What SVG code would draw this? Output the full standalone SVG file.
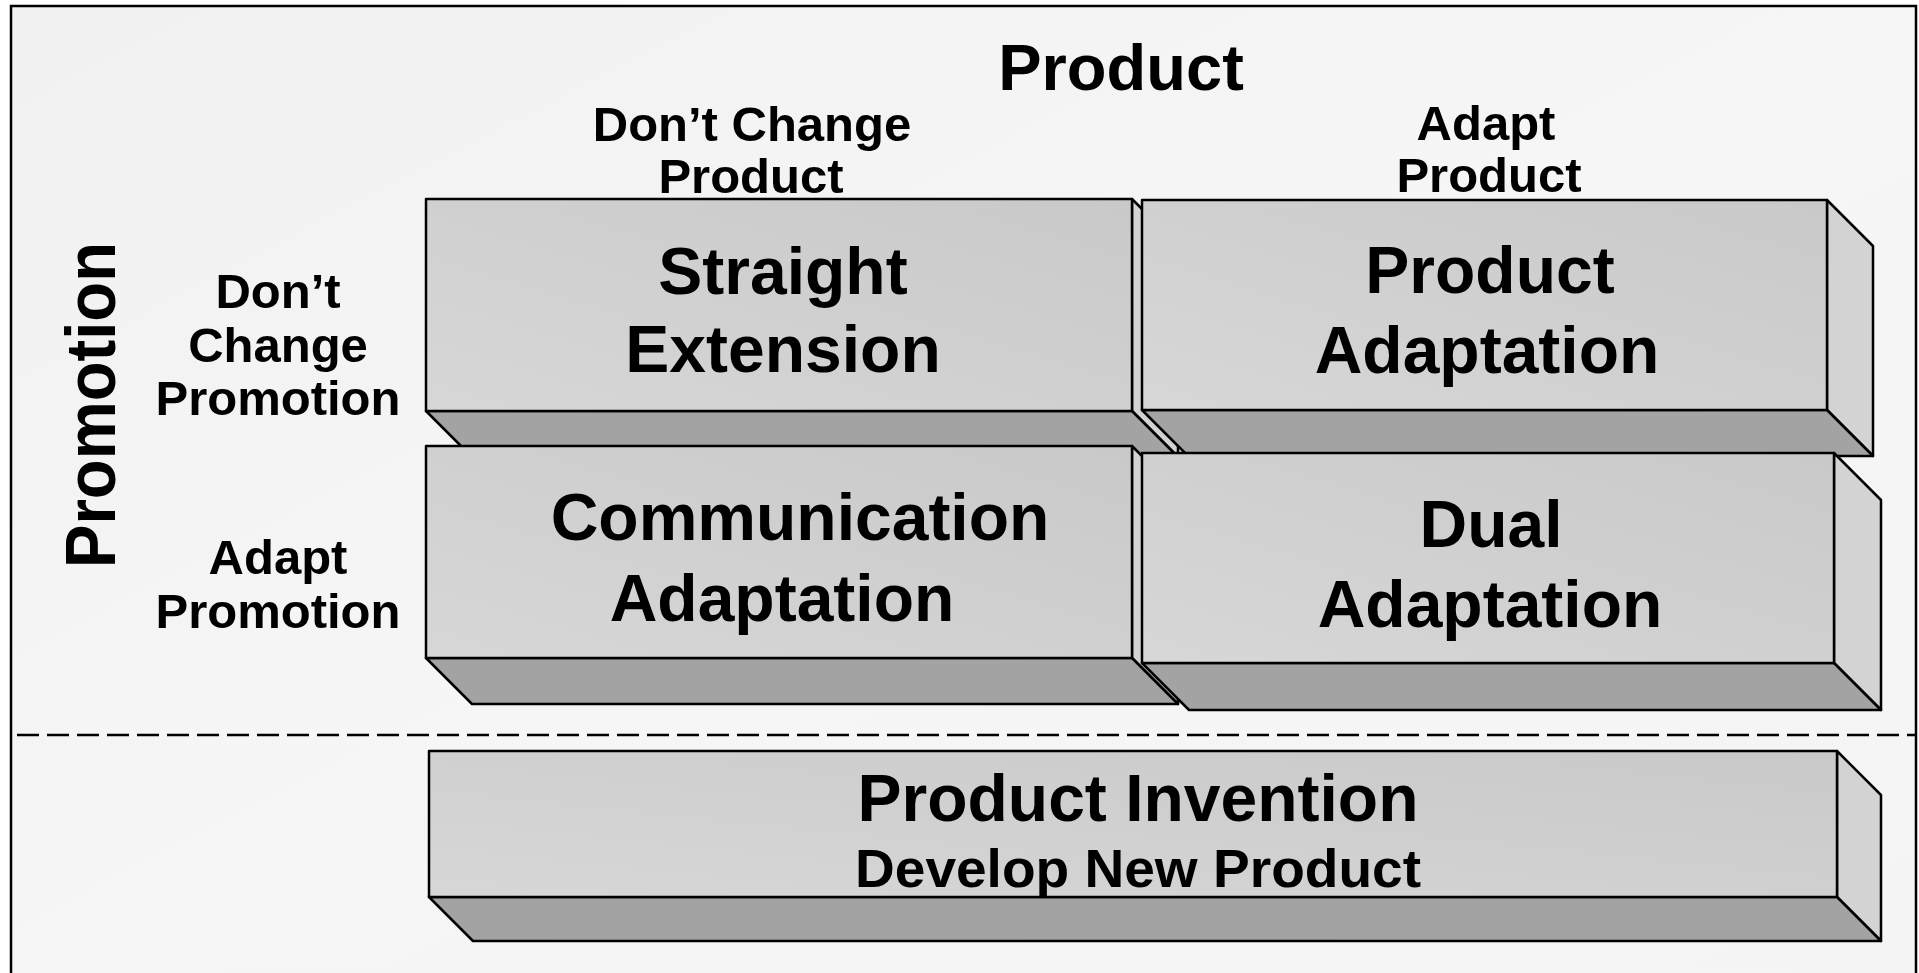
<svg xmlns="http://www.w3.org/2000/svg" width="1919" height="973" viewBox="0 0 1919 973">
  <defs>
    <linearGradient id="bg" x1="0" y1="0" x2="1" y2="1">
      <stop offset="0" stop-color="#f1f1f1"/>
      <stop offset="0.5" stop-color="#f6f6f6"/>
      <stop offset="1" stop-color="#f4f4f4"/>
    </linearGradient>
    <linearGradient id="face" x1="0" y1="1" x2="1" y2="0">
      <stop offset="0" stop-color="#d7d7d7"/>
      <stop offset="1" stop-color="#c9c9c9"/>
    </linearGradient>
    <style>
      .frame { fill: url(#bg); stroke: #000; stroke-width: 2.5; }
      .divider { stroke: #000; stroke-width: 2.5; stroke-dasharray: 22 8; fill: none; }
      .front { fill: url(#face); stroke: #000; stroke-width: 2.5; stroke-linejoin: round; }
      .bottom { fill: #a3a3a3; stroke: #000; stroke-width: 2.5; stroke-linejoin: round; }
      .side { fill: #d3d3d3; stroke: #000; stroke-width: 2.5; stroke-linejoin: round; }
      text { font-family: "Liberation Sans", Arial, sans-serif; font-weight: 700; fill: #000; text-anchor: middle; }
      .title { font-size: 65px; }
      .head { font-size: 49px; }
      .axis { font-size: 70px; }
      .big { font-size: 66px; }
      .sub { font-size: 53px; }
    </style>
  </defs>

  <!-- frame and panel background -->
  <rect x="0" y="0" width="1919" height="973" fill="#ffffff"/>
  <rect class="frame" x="11" y="6" width="1905" height="990"/>

  <!-- axis and header labels -->
  <g id="labels">
    <text class="title" x="1121" y="90">Product</text>
    <text class="head" x="752" y="141">Don’t Change</text>
    <text class="head" x="751" y="193">Product</text>
    <text class="head" x="1486" y="140">Adapt</text>
    <text class="head" x="1489" y="192">Product</text>
    <text class="axis" transform="translate(115 405) rotate(-90)" x="0" y="0" textLength="326" lengthAdjust="spacingAndGlyphs">Promotion</text>
    <text class="head" x="278" y="308">Don’t</text>
    <text class="head" x="278" y="362">Change</text>
    <text class="head" x="278" y="415">Promotion</text>
    <text class="head" x="278" y="574">Adapt</text>
    <text class="head" x="278" y="628">Promotion</text>
  </g>

  <!-- separator between adaptation grid and invention -->
  <g id="connectors">
    <line class="divider" x1="17" y1="735" x2="1916" y2="735"/>
  </g>

  <!-- extruded blocks -->
  <g id="straight-extension">
    <polygon class="side" points="1132,199 1178,245 1178,457 1132,411"/>
    <polygon class="bottom" points="426,411 1132,411 1178,457 472,457"/>
    <rect class="front" x="426" y="199" width="706" height="212"/>
    <text class="big" x="783" y="294">Straight</text>
    <text class="big" x="783" y="372">Extension</text>
  </g>

  <g id="product-adaptation">
    <polygon class="side" points="1827,200 1873,246 1873,456 1827,410"/>
    <polygon class="bottom" points="1142,410 1827,410 1873,456 1188,456"/>
    <rect class="front" x="1142" y="200" width="685" height="210"/>
    <text class="big" x="1490" y="293">Product</text>
    <text class="big" x="1487" y="373">Adaptation</text>
  </g>

  <g id="communication-adaptation">
    <polygon class="side" points="1132,446 1178,492 1178,704 1132,658"/>
    <polygon class="bottom" points="426,658 1132,658 1178,704 472,704"/>
    <rect class="front" x="426" y="446" width="706" height="212"/>
    <text class="big" x="800" y="540">Communication</text>
    <text class="big" x="782" y="621">Adaptation</text>
  </g>

  <g id="dual-adaptation">
    <polygon class="side" points="1834,453 1881,500 1881,710 1834,663"/>
    <polygon class="bottom" points="1142,663 1834,663 1881,710 1189,710"/>
    <rect class="front" x="1142" y="453" width="692" height="210"/>
    <text class="big" x="1491" y="547">Dual</text>
    <text class="big" x="1490" y="627">Adaptation</text>
  </g>

  <g id="product-invention">
    <polygon class="side" points="1837,751 1881,795 1881,941 1837,897"/>
    <polygon class="bottom" points="429,897 1837,897 1881,941 473,941"/>
    <rect class="front" x="429" y="751" width="1408" height="146"/>
    <text class="big" x="1138" y="821">Product Invention</text>
    <text class="sub" x="1138" y="887" textLength="566" lengthAdjust="spacingAndGlyphs">Develop New Product</text>
  </g>
</svg>
